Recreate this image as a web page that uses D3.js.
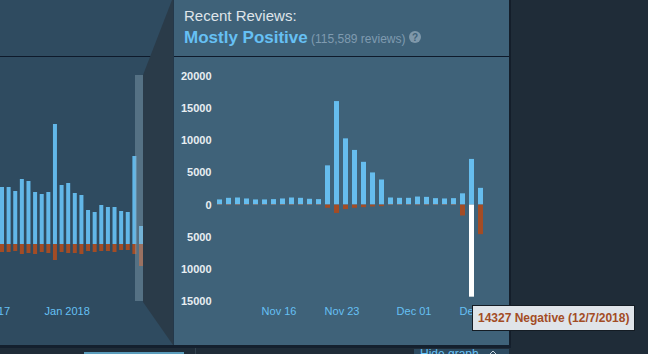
<!DOCTYPE html>
<html>
<head>
<meta charset="utf-8">
<script src="https://cdn.jsdelivr.net/npm/d3@7"></script>
<style>
  html, body { margin: 0; padding: 0; background: #1f2c38; overflow: hidden; }
  svg { display: block; font-family: "Liberation Sans", Arial, sans-serif; }
  .y-axis text { fill: #e8eef2; font-size: 11px; font-weight: bold; }
  .x-axis text { fill: #66c0f4; font-size: 11px; }
  .y-axis .domain, .y-axis line, .x-axis .domain, .x-axis line { display: none; }
</style>
</head>
<body>
<div id="graph"></div>
<script>
const days = [
  "Nov 09", "Nov 10", "Nov 11", "Nov 12", "Nov 13", "Nov 14", "Nov 15", "Nov 16", "Nov 17", "Nov 18",
  "Nov 19", "Nov 20", "Nov 21", "Nov 22", "Nov 23", "Nov 24", "Nov 25", "Nov 26", "Nov 27", "Nov 28",
  "Nov 29", "Nov 30", "Dec 01", "Dec 02", "Dec 03", "Dec 04", "Dec 05", "Dec 06", "Dec 07", "Dec 08"
];
const positive = [
  800, 1050, 1100, 950, 800, 800, 850, 950, 1100, 1050, 900, 850, 6100, 16100, 10300,
  8500, 6650, 5000, 3900, 1100, 1050, 1050, 1250, 1200, 1000, 950, 1000, 1750, 7100, 2600
];
const negative = [
  60, 80, 80, 70, 60, 60, 60, 70, 80, 80, 70, 70, 500, 1300, 700,
  500, 400, 300, 250, 80, 70, 70, 90, 90, 70, 70, 80, 1700, 14327, 4600
];
const dayTicks = ["Nov 16", "Nov 23", "Dec 01", "Dec 08"];
const yTicks = [20000, 15000, 10000, 5000, 0, -5000, -10000, -15000];
const highlightDay = "Dec 07";

const overviewPositive = [
  5700, 5700, 5300, 6500, 6300, 5200, 5000, 5200, 12000, 5900, 6100,
  5100, 4900, 3400, 3200, 3900, 3700, 3700, 3300, 3200, 8800, 1800
];
const overviewNegative = [
  800, 800, 700, 1000, 900, 1000, 800, 900, 1600, 800, 900,
  900, 1000, 700, 800, 700, 700, 800, 600, 600, 1000, 2200
];
const overviewTicks = [-2, 10];
const overviewTickLabels = ["Oct 2017", "Jan 2018"];

const w = 648;
const h = 354;
const svg = d3.select("#graph").append("svg").attr("width", w).attr("height", h);

// page chrome
svg.append("rect").attr("width", w).attr("height", h).attr("fill", "#1f2c38");
svg.append("rect").attr("width", 174).attr("height", 346).attr("fill", "#2f4b60");
svg.append("rect").attr("y", 56).attr("width", 174).attr("height", 1).attr("fill", "#0e1a2b");
svg.append("rect").attr("x", 84).attr("y", 352).attr("width", 100).attr("height", 2).attr("fill", "#5a9cbb");
svg.append("rect").attr("x", 195).attr("y", 348).attr("width", 1).attr("height", 6).attr("fill", "#33434f");
svg.append("rect").attr("x", 414).attr("y", 349).attr("width", 95).attr("height", 5).attr("fill", "#2c4a60");

// overview chart on the left
const ox = d3.scaleLinear().domain([0, 21]).range([2, 141]);
const oy = d3.scaleLinear().domain([-5700, 17000]).range([301, 74]);
const overview = svg.append("g");
svg.append("clipPath").attr("id", "overview-clip").append("rect").attr("width", 143).attr("height", h);
const overviewBars = overview.append("g").attr("clip-path", "url(#overview-clip)");

overviewBars.selectAll(".o-pos").data(overviewPositive).join("rect")
  .attr("class", "o-pos")
  .attr("x", (d, i) => ox(i) - 2)
  .attr("width", 4)
  .attr("y", (d) => oy(d))
  .attr("height", (d) => oy(0) - oy(d))
  .attr("fill", "#62b7e8");
overviewBars.selectAll(".o-neg").data(overviewNegative).join("rect")
  .attr("class", "o-neg")
  .attr("x", (d, i) => ox(i) - 2)
  .attr("width", 4)
  .attr("y", oy(0))
  .attr("height", (d) => oy(-d) - oy(0))
  .attr("fill", "#a34c25");

overview.append("g")
  .attr("class", "x-axis")
  .attr("transform", "translate(-1.5,307)")
  .call(d3.axisBottom(ox).tickValues(overviewTicks).tickFormat((d, i) => overviewTickLabels[i]).tickSize(0).tickPadding(0));

// range selector over the overview
svg.append("rect").attr("x", 135).attr("y", 75).attr("width", 8).attr("height", 226)
  .attr("fill", "#8fa9bb").attr("opacity", 0.4);

// wedge that links the selector to the zoomed panel
svg.append("polygon")
  .attr("points", "172,0 143,75 143,302 173,345 173,0")
  .attr("fill", "#2a3b49");

// zoomed panel
svg.append("rect").attr("x", 174).attr("width", 335).attr("height", 346).attr("fill", "#3f6279");
svg.append("rect").attr("x", 174).attr("y", 56).attr("width", 335).attr("height", 1).attr("fill", "#0e1a2b");
svg.append("rect").attr("x", 173).attr("width", 1).attr("height", 346).attr("fill", "#24384a");
svg.append("rect").attr("x", 509).attr("width", 2).attr("height", 346).attr("fill", "#141e2a");
svg.append("rect").attr("y", 345).attr("width", 511).attr("height", 3).attr("fill", "#14202e");

svg.append("text").attr("x", 184).attr("y", 21)
  .attr("font-size", 15).attr("fill", "#dfe5ea").text("Recent Reviews:");
svg.append("text").attr("x", 184).attr("y", 43)
  .attr("font-size", 17).attr("font-weight", "bold").attr("fill", "#66c0f4").text("Mostly Positive");
svg.append("text").attr("x", 311).attr("y", 43)
  .attr("font-size", 12).attr("fill", "#7f9bb0").text("(115,589 reviews)");
svg.append("circle").attr("cx", 415).attr("cy", 37).attr("r", 6).attr("fill", "#7f98aa");
svg.append("text").attr("x", 415).attr("y", 41).attr("text-anchor", "middle")
  .attr("font-size", 10).attr("font-weight", "bold").attr("fill", "#3f6279").text("?");

// main chart
const x = d3.scaleBand().domain(days).range([215, 485]).paddingInner(4 / 9).paddingOuter(2 / 9);
const y = d3.scaleLinear().domain([-15000, 20000]).range([301, 76]);
const chart = svg.append("g");

chart.selectAll(".pos").data(positive).join("rect")
  .attr("class", "pos")
  .attr("x", (d, i) => x(days[i]))
  .attr("width", x.bandwidth())
  .attr("y", (d) => y(d))
  .attr("height", (d) => y(0) - y(d))
  .attr("fill", "#66bdee");
chart.selectAll(".neg").data(negative).join("rect")
  .attr("class", "neg")
  .attr("x", (d, i) => x(days[i]))
  .attr("width", x.bandwidth())
  .attr("y", y(0))
  .attr("height", (d) => y(-d) - y(0))
  .attr("fill", (d, i) => (days[i] === highlightDay ? "#ffffff" : "#a34c25"));

chart.append("g")
  .attr("class", "y-axis")
  .attr("transform", "translate(211.5,0)")
  .call(d3.axisLeft(y).tickValues(yTicks).tickFormat((d) => Math.abs(d)).tickSize(0).tickPadding(0));

chart.append("g")
  .attr("class", "x-axis")
  .attr("transform", "translate(-3.5,307)")
  .call(d3.axisBottom(x).tickValues(dayTicks).tickSize(0).tickPadding(0));

// tooltip
const tip = svg.append("g");
tip.append("rect").attr("x", 472).attr("y", 305).attr("width", 163).attr("height", 26).attr("fill", "#141c24");
tip.append("rect").attr("x", 473).attr("y", 306).attr("width", 161).attr("height", 24).attr("fill", "#dfe4e9");
tip.append("text").attr("x", 478).attr("y", 322)
  .attr("font-size", 12).attr("font-weight", "bold").attr("fill", "#a34c25")
  .text("14327 Negative (12/7/2018)");

svg.append("text").attr("x", 420).attr("y", 358).attr("font-size", 12).attr("fill", "#66c0f4").text("Hide graph");
svg.append("path").attr("d", d3.line()([[490, 354], [493, 351], [496, 354]])).attr("fill", "none").attr("stroke", "#c6d4df");
</script>
</body>
</html>
